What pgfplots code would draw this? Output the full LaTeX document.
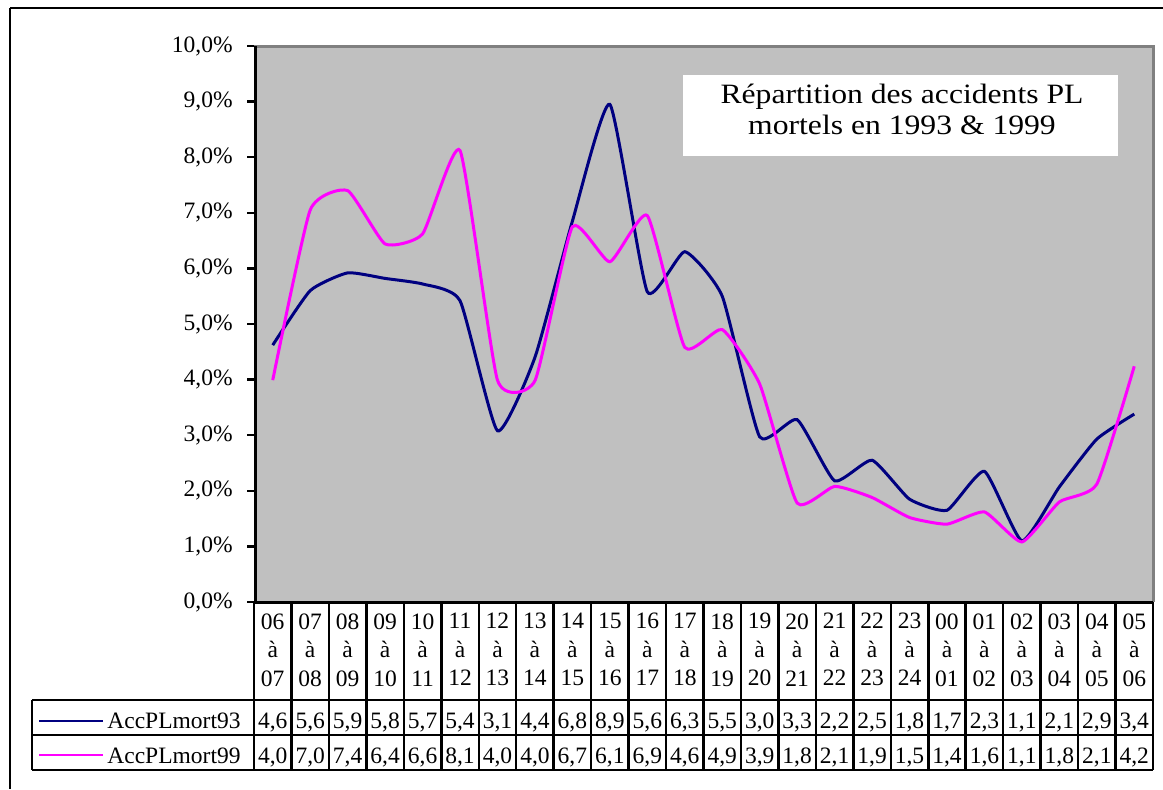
\documentclass[border=0pt]{standalone}
\usepackage{fontspec}
\setmainfont{Liberation Serif}
\usepackage{graphicx}
\usepackage{pgfplots}
\pgfplotsset{compat=1.18}
\usepackage{pgfplotstable}
\definecolor{plotgray}{RGB}{192,192,192}
\definecolor{framegray}{RGB}{128,128,128}
\definecolor{navyline}{RGB}{0,0,128}
\definecolor{magline}{RGB}{255,0,255}

\pgfplotstableread{
x y93 y99
0  4.62 3.99
1  5.60 7.05
2  5.92 7.40
3  5.82 6.44
4  5.72 6.62
5  5.42 8.12
6  3.08 3.99
7  4.40 3.98
8  6.85 6.75
9  8.95 6.12
10 5.58 6.95
11 6.30 4.58
12 5.50 4.90
13 2.97 3.92
14 3.28 1.78
15 2.18 2.08
16 2.55 1.88
17 1.85 1.52
18 1.65 1.40
19 2.35 1.62
20 1.10 1.08
21 2.07 1.80
22 2.93 2.12
23 3.38 4.24
}\data

\newcommand{\tfont}{\fontsize{11.75}{14.25}\selectfont}

\begin{document}
\begin{tikzpicture}
\path[use as bounding box, fill=white] (0pt,0pt) rectangle (581.5pt,-394.5pt);

\begin{axis}[
  at={(127pt,-301pt)}, anchor=south west,
  scale only axis, width=449.5pt, height=278pt,
  xmin=-0.5, xmax=23.5, ymin=0, ymax=10,
  axis background/.style={fill=plotgray},
  axis line style={draw=none},
  clip=false,
  ytick={0,1,...,10},
  yticklabels={{0,0\%},{1,0\%},{2,0\%},{3,0\%},{4,0\%},{5,0\%},{6,0\%},{7,0\%},{8,0\%},{9,0\%},{10,0\%}},
  ytick pos=left,
  tick align=outside,
  major tick length=3.5pt,
  ytick style={line width=1.25pt, black},
  yticklabel style={font=\tfont, inner sep=0pt, anchor=east, xshift=-7pt},
  xtick={0,...,23},
  xticklabels={{06\\à\\07},{07\\à\\08},{08\\à\\09},{09\\à\\10},{10\\à\\11},{11\\à\\12},{12\\à\\13},{13\\à\\14},{14\\à\\15},{15\\à\\16},{16\\à\\17},{17\\à\\18},{18\\à\\19},{19\\à\\20},{20\\à\\21},{21\\à\\22},{22\\à\\23},{23\\à\\24},{00\\à\\01},{01\\à\\02},{02\\à\\03},{03\\à\\04},{04\\à\\05},{05\\à\\06}},
  xtick pos=bottom,
  xtick style={draw=none},
  xticklabel style={font=\tfont, align=center, inner sep=0pt, anchor=north, yshift=-2pt},
]
\addplot[navyline, line width=1.5pt, smooth, tension=0.3] table[x=x, y=y93] {\data};
\addplot[magline, line width=1.5pt, smooth, tension=0.3] table[x=x, y=y99] {\data};
\end{axis}

\begin{scope}[x=0.5pt,y=-0.5pt]
% plot frame
\draw[framegray, line width=1.5pt] (254,46) -- (1153,46) -- (1153,602);
\draw[black, line width=1.5pt] (255,46) -- (255,602) -- (1153,602);
% title box
\fill[white] (683,75) rectangle (1118,156);
\node[anchor=base, inner sep=0pt] at (902,103) {\scalebox{1.13}[1]{\fontsize{14}{15}\selectfont Répartition des accidents PL}};
\node[anchor=base, inner sep=0pt] at (902,134) {\scalebox{1.13}[1]{\fontsize{14}{15}\selectfont mortels en 1993 \& 1999}};
% data table grid
\foreach \k in {0,...,24} {
  \draw[black, line width=1.25pt] ({254+37.4583*\k},602) -- ({254+37.4583*\k},770);
}
\draw[black, line width=1.25pt] (32,700) -- (1153,700);
\draw[black, line width=1.25pt] (32,735) -- (1153,735);
\draw[black, line width=1.25pt] (32,770) -- (1153,770);
\draw[black, line width=1.25pt] (32,700) -- (32,770);
% legend keys
\draw[navyline, line width=1.4pt] (39,721) -- (103,721);
\draw[magline, line width=1.4pt] (39,755) -- (103,755);
\node[anchor=base west, inner sep=0pt, font=\tfont] at (107,728) {AccPLmort93};
\node[anchor=base west, inner sep=0pt, font=\tfont] at (107,763) {AccPLmort99};
% values
\foreach \v [count=\i from 0] in {{4,6},{5,6},{5,9},{5,8},{5,7},{5,4},{3,1},{4,4},{6,8},{8,9},{5,6},{6,3},{5,5},{3,0},{3,3},{2,2},{2,5},{1,8},{1,7},{2,3},{1,1},{2,1},{2,9},{3,4}} {
  \node[anchor=base, inner sep=0pt, font=\tfont] at ({254+37.4583*(\i+0.5)},728) {\v};
}
\foreach \v [count=\i from 0] in {{4,0},{7,0},{7,4},{6,4},{6,6},{8,1},{4,0},{4,0},{6,7},{6,1},{6,9},{4,6},{4,9},{3,9},{1,8},{2,1},{1,9},{1,5},{1,4},{1,6},{1,1},{1,8},{2,1},{4,2}} {
  \node[anchor=base, inner sep=0pt, font=\tfont] at ({254+37.4583*(\i+0.5)},763) {\v};
}
% outer border
\draw[black, line width=1pt] (10,8) -- (1163,8);
\draw[black, line width=1pt] (10,8) -- (10,789);
\end{scope}
\end{tikzpicture}
\end{document}
